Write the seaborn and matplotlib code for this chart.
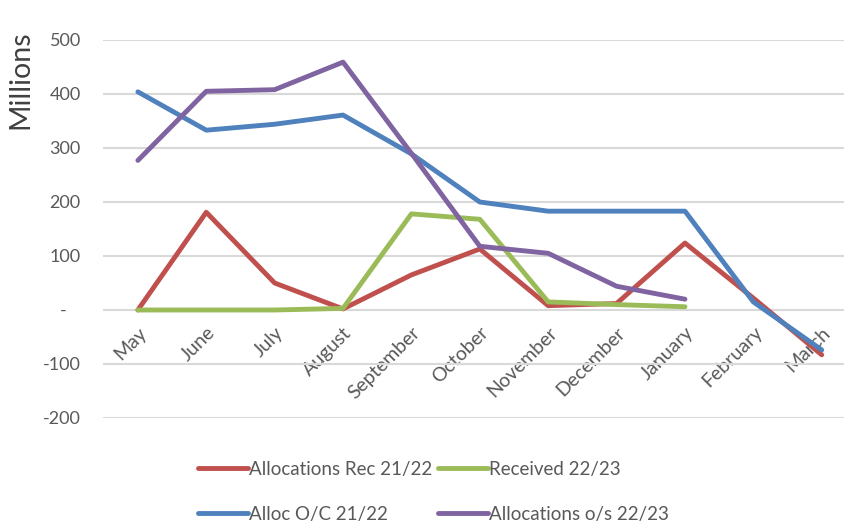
import matplotlib
matplotlib.use("Agg")
import matplotlib.pyplot as plt
import matplotlib.ticker as mticker
import seaborn as sns
import pandas as pd
import numpy as np

months = ["May", "June", "July", "August", "September", "October", "November",
          "December", "January", "February", "March"]
alloc_rec_2122 = [0, 181, 50, 2, 65, 113, 8, 12, 124, 22, -83]
received_2223 = [0, 0, 0, 3, 178, 168, 15, 10, 6, np.nan, np.nan]
alloc_oc_2122 = [404, 333, 344, 361, 289, 200, 183, 183, 183, 15, -74]
alloc_os_2223 = [277, 405, 408, 459, 290, 118, 105, 44, 20, np.nan, np.nan]
y_ticks = [-200, -100, 0, 100, 200, 300, 400, 500]

series = {
    "Allocations Rec 21/22": alloc_rec_2122,
    "Alloc O/C 21/22": alloc_oc_2122,
    "Received 22/23": received_2223,
    "Allocations o/s 22/23": alloc_os_2223,
}
colors = {
    "Allocations Rec 21/22": "#C0504D",
    "Alloc O/C 21/22": "#4F81BD",
    "Received 22/23": "#9BBB59",
    "Allocations o/s 22/23": "#8064A2",
}
draw_order = ["Allocations Rec 21/22", "Received 22/23", "Alloc O/C 21/22", "Allocations o/s 22/23"]

rows = []
for name, vals in series.items():
    for i, (m, v) in enumerate(zip(months, vals)):
        rows.append({"month": m, "idx": i, "series": name, "value": v})
df = pd.DataFrame(rows).dropna()

sns.set_theme(style="white")
plt.rcParams["font.family"] = ["Lato", "DejaVu Sans"]

fig = plt.figure(figsize=(8.45, 5.24), dpi=100)
ax = fig.add_axes([103 / 845, 1 - 418 / 524, (845 - 103) / 845, (418 - 40) / 524])

for name in draw_order:
    sub = df[df["series"] == name]
    sns.lineplot(data=sub, x="idx", y="value", color=colors[name], linewidth=3.5,
                 ax=ax, label=name, solid_capstyle="round", zorder=3)

ax.set_xlim(-0.51, 10.34)
ax.set_ylim(-200, 500)
ax.spines["bottom"].set_position(("data", 0))
ax.set_yticks(y_ticks)
ax.yaxis.set_major_formatter(mticker.FuncFormatter(lambda v, p: "-   " if v == 0 else f"{int(v)}"))
ax.set_xticks(range(len(months)))
ax.set_xticklabels(months, rotation=45, ha="right", rotation_mode="anchor")
ax.tick_params(axis="y", length=0, labelsize=13, colors="#595959", pad=16)
ax.tick_params(axis="x", length=0, labelsize=14, colors="#595959", pad=10)
ax.grid(axis="y", color="#D9D9D9", linewidth=1.5, zorder=0)
ax.grid(axis="x", visible=False)
for s in ax.spines.values():
    s.set_color("none")
ax.set_xlabel("")
ax.set_ylabel("Millions", fontsize=20.5, color="#404040")
ax.yaxis.set_label_coords(-0.094, 0.895)

handles, labels = ax.get_legend_handles_labels()
hmap = dict(zip(labels, handles))
order = ["Allocations Rec 21/22", "Alloc O/C 21/22", "Received 22/23", "Allocations o/s 22/23"]
ax.get_legend().remove()
leg = fig.legend([hmap[k] for k in order], order, ncol=2, loc="lower left",
                 bbox_to_anchor=(181 / 845, -0.03), frameon=False, fontsize=13.5,
                 handlelength=2.65, handletextpad=0.08, columnspacing=0.3,
                 labelspacing=1.5)
for t in leg.get_texts():
    t.set_color("#595959")

fig.savefig("out.png", dpi=100)
